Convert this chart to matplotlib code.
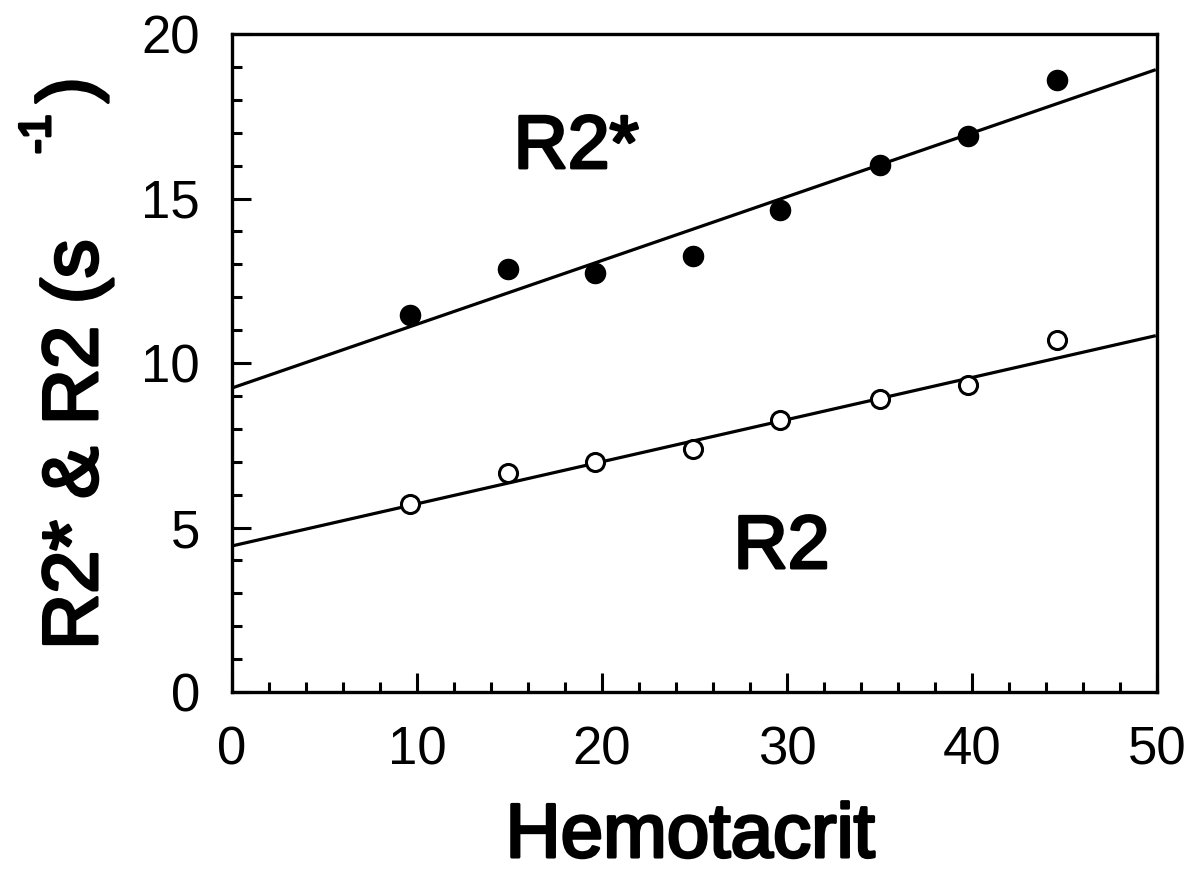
import numpy as np
import matplotlib
matplotlib.use("Agg")
import matplotlib.pyplot as plt
import matplotlib.patheffects as pe
from matplotlib.ticker import MultipleLocator

# Valores
hematocrito = [9.6, 14.9, 19.6, 24.9, 29.6, 35.0, 39.8, 44.6]
r2_estrella = [11.46, 12.86, 12.73, 13.25, 14.65, 16.02, 16.90, 18.60]
r2 = [5.71, 6.66, 6.99, 7.39, 8.27, 8.91, 9.33, 10.70]

# Rectas de ajuste (extremos leídos)
ajuste_x = [0, 49.85]
ajuste_r2_estrella = [9.24, 18.90]
ajuste_r2 = [4.44, 10.82]

plt.rcParams["font.family"] = ["Liberation Sans", "DejaVu Sans"]
grueso = [pe.withStroke(linewidth=2.2, foreground="black")]

W, H = 1194, 875
fig = plt.figure(figsize=(W / 100, H / 100), dpi=100)
ax = fig.add_axes([232 / W, 1 - 692 / H, (1157 - 232) / W, (692 - 34) / H])

ax.plot(ajuste_x, ajuste_r2_estrella, color="black", lw=2.3, zorder=2)
ax.plot(ajuste_x, ajuste_r2, color="black", lw=2.3, zorder=2)
ax.plot(hematocrito, r2_estrella, "o", color="black", ms=14.5, zorder=3)
ax.plot(hematocrito, r2, "o", mfc="white", mec="black", mew=2.2, ms=13, zorder=3)

ax.set_xlim(0, 50)
ax.set_ylim(0, 20)
ax.xaxis.set_major_locator(MultipleLocator(10))
ax.xaxis.set_minor_locator(MultipleLocator(2))
ax.yaxis.set_major_locator(MultipleLocator(5))
ax.yaxis.set_minor_locator(MultipleLocator(1))
ax.tick_params(which="both", direction="in", width=2.2, top=False, right=False,
               labelsize=38)
ax.tick_params(axis="x", pad=24)
ax.tick_params(axis="y", pad=23)
ax.tick_params(which="major", length=14)
ax.tick_params(which="minor", length=7)
for s in ax.spines.values():
    s.set_linewidth(2.4)

ax.text(18.6, 15.93, "R2*", fontsize=54, ha="center", va="baseline", path_effects=grueso)
ax.text(29.7, 3.77, "R2", fontsize=54, ha="center", va="baseline", path_effects=grueso)

fig.text(690 / W, 1 - 857 / H, "Hemotacrit", fontsize=55, ha="center", va="baseline",
         path_effects=grueso)

# Etiqueta del eje y en tres piezas, como en el original
fig.text(97 / W, 1 - 650 / H, "R2* & R2 (s", fontsize=56, rotation=90,
         rotation_mode="anchor", ha="left", va="baseline", path_effects=grueso)
fig.text(50 / W, 1 - 154 / H, "-1", fontsize=32, rotation=90,
         rotation_mode="anchor", ha="left", va="baseline", path_effects=grueso)
fig.text(92 / W, 1 - 103 / H, ")", fontsize=56, rotation=90,
         rotation_mode="anchor", ha="left", va="baseline", path_effects=grueso)

fig.savefig("out.png", dpi=100)
